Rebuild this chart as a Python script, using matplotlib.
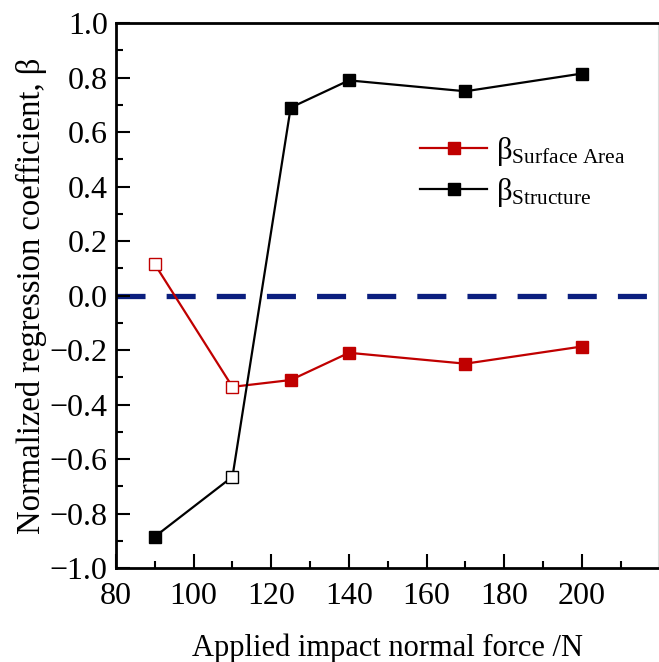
import matplotlib
matplotlib.use("Agg")
import matplotlib.pyplot as plt
from matplotlib.ticker import MultipleLocator

plt.rcParams['font.family'] = ['Liberation Serif', 'DejaVu Serif']
plt.rcParams['mathtext.fontset'] = 'custom'
plt.rcParams['mathtext.rm'] = 'Liberation Serif'
plt.rcParams['mathtext.it'] = 'Liberation Serif:italic'

# data
force = [90, 110, 125, 140, 170, 200]
beta_surface = [0.115, -0.335, -0.31, -0.21, -0.25, -0.187]
beta_structure = [-0.885, -0.665, 0.69, 0.79, 0.75, 0.815]
# points drawn as hollow squares in the original
open_surface = [0, 1]
open_structure = [1]

xticks = [80, 100, 120, 140, 160, 180, 200]
yticks = [-1.0, -0.8, -0.6, -0.4, -0.2, 0.0, 0.2, 0.4, 0.6, 0.8, 1.0]

fig = plt.figure(figsize=(6.59, 6.62), dpi=100)
ax = fig.add_axes([0.176, 0.142, 0.823, 0.823])

red = '#c00000'
ax.axhline(0, color='#0b1f7f', lw=3.8, ls=(0, (5.5, 4)), zorder=1)

series = [(beta_surface, open_surface, red, 'β$_{\\mathrm{Surface\\ Area}}$'),
          (beta_structure, open_structure, 'black', 'β$_{\\mathrm{Structure}}$')]
for y, opn, c, lab in series:
    ax.plot(force, y, color=c, lw=1.6, zorder=2)
    filled = [i for i in range(len(force)) if i not in opn]
    ax.plot([force[i] for i in filled], [y[i] for i in filled], 's', color=c,
            ms=8, zorder=3)
    ax.plot([force[i] for i in opn], [y[i] for i in opn], 's',
            mfc='white', mec=c, mew=1.0, ms=8, zorder=3)
    ax.plot([], [], '-s', color=c, lw=1.6, ms=8, label=lab)

ax.set_xlim(80, 219.7)
ax.set_ylim(-1.0, 1.0)
ax.set_xticks(xticks)
ax.set_yticks(yticks)
ax.set_yticklabels([f'{v:.1f}'.replace('-', '\u2212') for v in yticks])
ax.xaxis.set_minor_locator(MultipleLocator(10))
ax.yaxis.set_minor_locator(MultipleLocator(0.1))
ax.tick_params(which='major', direction='in', length=10, width=1.5,
               labelsize=23, top=False, right=False)
ax.tick_params(axis='x', which='major', pad=10)
ax.tick_params(axis='y', which='major', pad=6)
ax.tick_params(which='minor', direction='in', length=5, width=1.5,
               top=False, right=False)
for s in ax.spines.values():
    s.set_linewidth(2)
ax.spines['right'].set_color('#dddddd')
ax.spines['right'].set_linewidth(0.8)

ax.set_xlabel('Applied impact normal force /N', fontsize=22, labelpad=16)
ax.set_ylabel('Normalized regression coefficient, \u03b2', fontsize=23.5, labelpad=2)

ax.legend(loc='upper left', bbox_to_anchor=(0.51, 0.845), frameon=False,
          fontsize=22, handlelength=2.2, labelspacing=0.25, handletextpad=0.3)

fig.savefig('out.png', dpi=100)
